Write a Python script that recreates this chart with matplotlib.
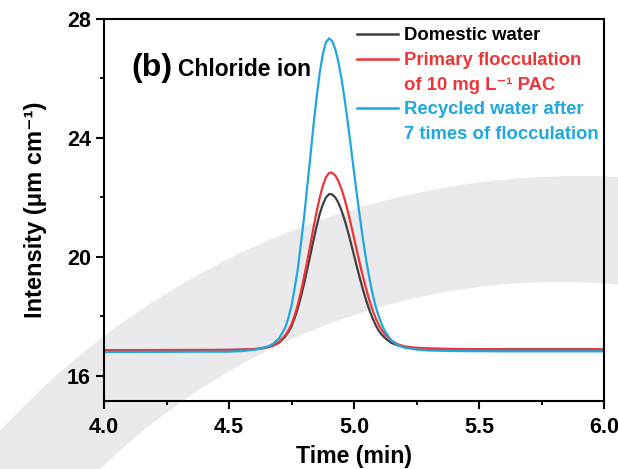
import numpy as np
import matplotlib
matplotlib.use("Agg")
import matplotlib.pyplot as plt
from matplotlib.path import Path
from matplotlib.patches import PathPatch
from matplotlib.lines import Line2D
from matplotlib.ticker import MultipleLocator

plt.rcParams['font.family'] = ['Liberation Sans', 'DejaVu Sans']
plt.rcParams['font.weight'] = 'bold'

# ---------------- data ----------------
time_min = [4.0, 4.5, 4.55, 4.6, 4.625, 4.65, 4.675, 4.7, 4.725, 4.7375,
            4.75, 4.7625, 4.775, 4.7875, 4.8, 4.8125, 4.825, 4.8375, 4.85, 4.8625,
            4.875, 4.8875, 4.9, 4.9125, 4.925, 4.9375, 4.95, 4.9625, 4.975, 4.9875,
            5.0, 5.0125, 5.025, 5.0375, 5.05, 5.0625, 5.075, 5.0875, 5.1, 5.1125,
            5.125, 5.15, 5.175, 5.2, 5.25, 5.3, 5.4, 5.6, 6.0]

domestic = [16.86, 16.865, 16.87, 16.89, 16.91, 16.95, 17.01, 17.11, 17.32, 17.47,
            17.66, 17.94, 18.26, 18.65, 19.08, 19.56, 20.05, 20.54, 21.01, 21.43,
            21.76, 21.99, 22.11, 22.10, 22.00, 21.82, 21.56, 21.24, 20.87, 20.47,
            20.05, 19.63, 19.23, 18.85, 18.50, 18.19, 17.92, 17.69, 17.50, 17.37,
            17.26, 17.10, 17.02, 16.97, 16.92, 16.90, 16.89, 16.88, 16.88]

primary = [16.86, 16.87, 16.88, 16.90, 16.92, 16.96, 17.02, 17.13, 17.36, 17.52,
           17.73, 18.03, 18.39, 18.82, 19.31, 19.84, 20.39, 20.96, 21.50, 21.98,
           22.38, 22.67, 22.82, 22.83, 22.74, 22.55, 22.28, 21.94, 21.54, 21.10,
           20.64, 20.17, 19.71, 19.28, 18.88, 18.51, 18.19, 17.92, 17.69, 17.52,
           17.38, 17.18, 17.06, 16.99, 16.94, 16.92, 16.90, 16.89, 16.89]

recycled = [16.80, 16.81, 16.83, 16.87, 16.91, 16.97, 17.06, 17.25, 17.62, 17.95,
            18.35, 18.94, 19.58, 20.43, 21.30, 22.33, 23.33, 24.39, 25.33, 26.17,
            26.80, 27.21, 27.35, 27.26, 26.99, 26.56, 25.99, 25.30, 24.53, 23.70,
            22.86, 22.03, 21.24, 20.50, 19.83, 19.24, 18.73, 18.30, 17.97, 17.70,
            17.48, 17.18, 17.03, 16.95, 16.88, 16.85, 16.83, 16.82, 16.82]

series_labels = ["Domestic water", "Primary flocculation", "Recycled water after"]
series_extra = [None, "of 10 mg L\u207b\u00b9 PAC", "7 times of flocculation"]
series_colors = ["#404040", "#ee3535", "#1ea7e1"]

x_ticks = [4.0, 4.5, 5.0, 5.5, 6.0]
y_ticks = [16, 20, 24, 28]

# ---------------- figure ----------------
W, H = 618, 469
fig = plt.figure(figsize=(W / 100, H / 100), dpi=100)

# background decorative band (figure pixel coords -> figure fraction)
th = np.linspace(np.radians(20), np.radians(160), 240)
ocx, ocy, oR = 580, 963, 787
icx, icy, iR = 560, 940, 658
ox = ocx + oR * np.cos(th)
oy = ocy - oR * np.sin(th)
ix = icx + iR * np.cos(th[::-1])
iy = icy - iR * np.sin(th[::-1])
px = np.concatenate([ox, ix]) / W
py = 1 - np.concatenate([oy, iy]) / H
verts = np.column_stack([px, py])
band = PathPatch(Path(np.vstack([verts, verts[:1]]), closed=True),
                 facecolor="#eaeaec", edgecolor="none",
                 transform=fig.transFigure, zorder=-10)
fig.patches.append(band)

ax = fig.add_axes([104 / W, 1 - 401 / H, 500 / W, 382 / H])
ax.set_zorder(1)
ax.patch.set_alpha(0)

for ys, c in zip([domestic, primary, recycled], series_colors):
    ax.plot(time_min, ys, color=c, lw=1.6, solid_joinstyle='round')

ax.set_xlim(4.0, 6.0)
ax.set_ylim(15.15, 28)
ax.set_xticks(x_ticks)
ax.set_xticklabels([f"{v:.1f}" for v in x_ticks])
ax.set_yticks(y_ticks)
ax.set_yticklabels([str(v) for v in y_ticks])
ax.xaxis.set_minor_locator(MultipleLocator(0.25))
ax.yaxis.set_minor_locator(MultipleLocator(2))

for s in ax.spines.values():
    s.set_linewidth(1.5)
ax.tick_params(which='major', direction='out', length=5.5, width=1.5,
               labelsize=15.5, pad=4)
ax.tick_params(which='minor', direction='out', length=3, width=1.3)
ax.tick_params(axis='x', which='major', pad=6)

ax.set_xlabel("Time (min)", fontsize=16.7, fontweight='bold', labelpad=5)
ax.set_ylabel("Intensity (μm cm\u207b\u00b9)", fontsize=17, fontweight='bold', labelpad=14)

ax.text(0.054, 0.851, "(b)", transform=ax.transAxes, fontsize=23,
        fontweight='bold', va='baseline', ha='left')
ax.text(0.148, 0.851, "Chloride ion", transform=ax.transAxes, fontsize=16.5,
        fontweight='bold', va='baseline', ha='left')

# legend: one row per text line
handles, labels, colors = [], [], []
for lab, extra, c in zip(series_labels, series_extra, series_colors):
    handles.append(Line2D([], [], color=c, lw=1.8))
    labels.append(lab)
    colors.append('black' if c == "#404040" else c)
    if extra:
        handles.append(Line2D([], [], color='none', lw=0))
        labels.append(extra)
        colors.append(c)
leg = ax.legend(handles, labels, loc='upper left', bbox_to_anchor=(0.506, 0.978),
                frameon=False, handlelength=2.2, handletextpad=0.35,
                labelspacing=0.41, borderpad=0, borderaxespad=0,
                labelcolor=colors, prop={'weight': 'bold', 'size': 13.3})

fig.savefig("out.png", dpi=100)
